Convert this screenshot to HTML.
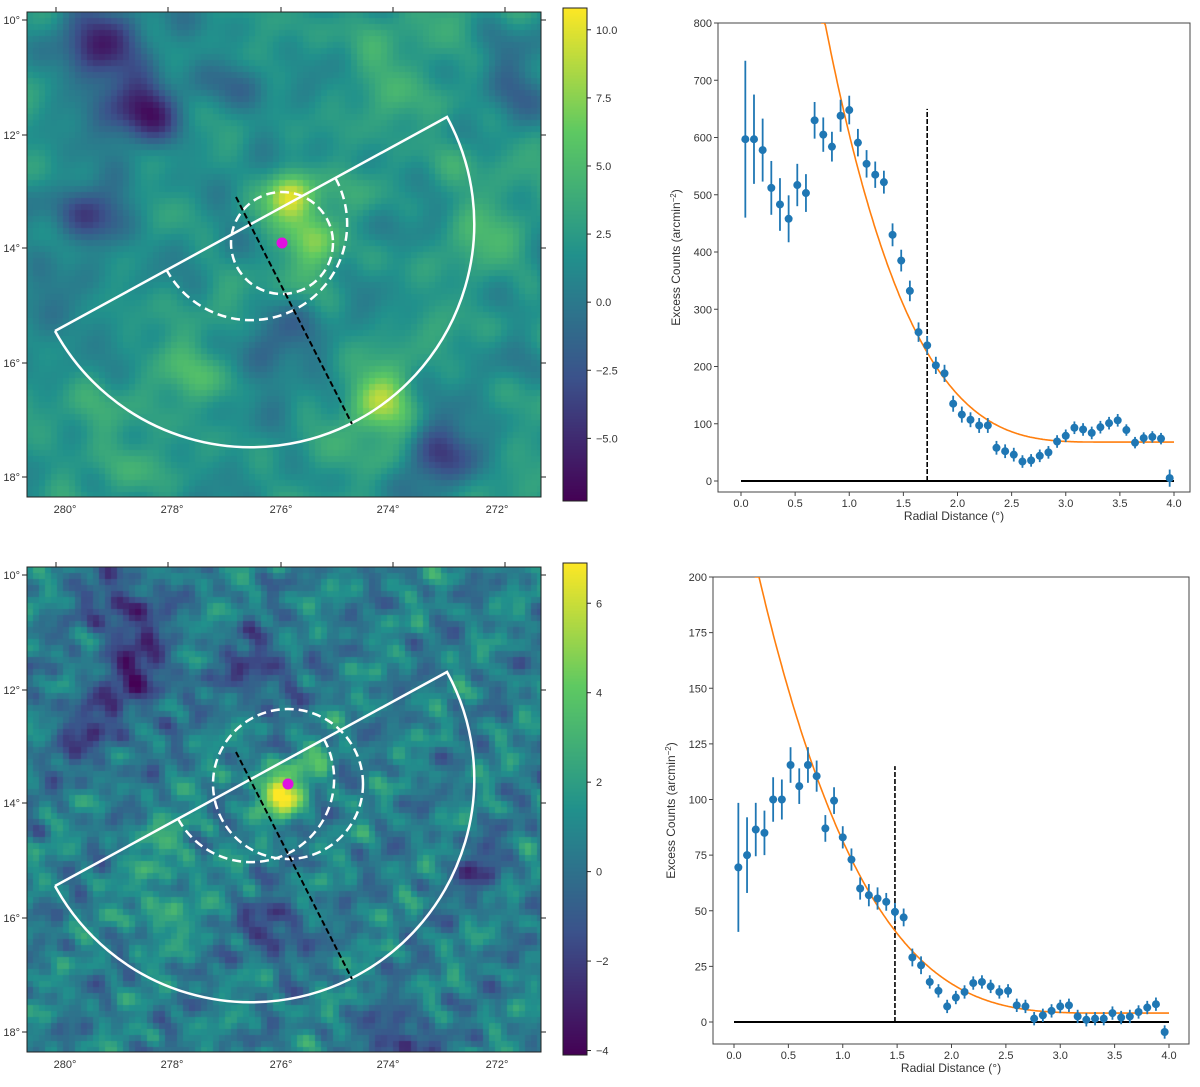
<!DOCTYPE html>
<html><head><meta charset="utf-8"><style>
html,body{margin:0;padding:0;background:#fff;width:1200px;height:1087px;overflow:hidden;font-family:"Liberation Sans",sans-serif}
#root{position:relative;width:1200px;height:1087px}
canvas{position:absolute}
svg{position:absolute;left:0;top:0}
</style></head><body><div id="root">
<canvas id="map1" width="514" height="485" style="left:27px;top:12px"></canvas>
<canvas id="map2" width="514" height="485" style="left:27px;top:567px"></canvas>
<canvas id="cb1" width="24" height="493" style="left:563px;top:8px"></canvas>
<canvas id="cb2" width="24" height="492" style="left:563px;top:563px"></canvas>
<svg id="svg" width="1200" height="1087"></svg>
</div>
<script>
// ---- data: top profile ----
const topX = [0.04,0.12,0.2,0.28,0.36,0.44,0.52,0.6,0.68,0.76,0.84,0.92,1.0,1.08,1.16,1.24,1.32,1.4,1.48,1.56,1.64,1.72,1.8,1.88,1.96,2.04,2.12,2.2,2.28,2.36,2.44,2.52,2.6,2.68,2.76,2.84,2.92,3.0,3.08,3.16,3.24,3.32,3.4,3.48,3.56,3.64,3.72,3.8,3.88,3.96];
const topY = [597,597,578,512,483,458,517,503,630,605,584,638,648,591,554,535,522,430,385,332,260,237,202,188,135,116,107,97,97,58,52,46,34,36,44,50,69,79,93,90,84,94,101,106,89,67,75,77,74,5];
const topErr = [137,78,55,47,46,41,37,33,32,30,26,28,25,24,24,23,20,20,19,18,17,16,15,15,14,14,13,13,13,12,12,12,11,11,11,11,11,11,11,11,11,11,11,11,10,10,10,10,10,15];
const topFit = [68,26,3.4,3.46]; // plateau, amplitude, cutoff, power
const topMark = [1.72,650];
const topYTicks = [0,100,200,300,400,500,600,700,800];
// ---- data: bottom profile ----
const botX = topX;
const botY = [69.5,75,86.5,85,100,100,115.5,106,115.5,110.5,87,99.5,83,73,60,57,55.5,54,49.5,47,29,25.5,18,14,7,11,13.5,17.5,18,16,13.5,14,7.5,7,1.5,3,5,7,7.5,2.5,1,1.5,1.5,4,2,2.5,4.5,6.5,8,-4.5];
const botErr = [29,17,12,10,10,9,8,8,8,7,6,6,5,5,5,5,5,4,4,4,4,4,3,3,3,3,3,3,3,3,3,3,3,3,3,3,3,3,3,3,3,3,3,3,3,3,3,3,3,3];
const botFit = [4,3.25,3.5,3.46];
const botMark = [1.48,115];
const botYTicks = [0,25,50,75,100,125,150,175,200];
const xTicks = [0,0.5,1,1.5,2,2.5,3,3.5,4];
// ---- map sources [x,y,sigma,amp] in map pixel coords ----
const map1Src = [[65,30,30,-7],[115,100,28,-7],[65,205,25,-6],[240,330,25,-4],[405,440,30,-5],[480,80,30,-3],[200,60,25,-3],[20,300,30,-3],[258,180,16,8.5],[285,225,20,5],[350,385,22,6],[365,440,18,4],[450,210,25,2],[150,340,30,2],[60,410,30,2],[350,40,30,2],[440,120,30,2]];
const map2Src = [[95,40,25,-3],[110,105,25,-3],[230,100,25,-2.5],[245,360,20,-3],[60,160,30,-2],[450,300,20,-2],[370,470,20,-3],[255,228,14,4.5],[240,215,18,2.5],[285,195,14,2],[140,280,25,1.5],[130,345,20,2]];

const NS="http://www.w3.org/2000/svg";
const svg=document.getElementById('svg');
function el(tag,attrs,parent){const e=document.createElementNS(NS,tag);for(const k in attrs)e.setAttribute(k,attrs[k]);(parent||svg).appendChild(e);return e;}
function txt(x,y,s,anchor,size,parent){const t=el('text',{x:x,y:y,'text-anchor':anchor||'middle','font-size':size||11,fill:'#333','font-family':'Liberation Sans, sans-serif'},parent);t.textContent=s;return t;}

const VIR=[[68,1,84],[59,82,139],[33,145,140],[94,201,98],[253,231,37]];
function vir(f){f=Math.max(0,Math.min(1,f));const p=f*4,i=Math.min(3,Math.floor(p)),t=p-i;return VIR[i].map((c,k)=>Math.round(c+(VIR[i+1][k]-c)*t));}

const TEX=[[1,0.7,0,0.5],[1.93,-1.31,1,0.4],[0.43,2.37,2,0.35],[3.17,2.71,0.3,0.25],[-2.53,1.61,4.1,0.3],[1.41,-2.89,2.7,0.25],[3.7,-0.9,5.2,0.2],[-0.77,3.53,1.7,0.2]];
function drawMap(id,src,base,tex,freq,vmin,vmax,block){
  const c=document.getElementById(id),ctx=c.getContext('2d');
  for(let y=0;y<485;y+=block)for(let x=0;x<514;x+=block){
    let v=base;
    for(const t of TEX)v+=tex*t[3]*Math.sin(freq*(x*t[0]+y*t[1])+t[2]);
    for(const s of src){const dx=x-s[0],dy=y-s[1];v+=s[3]*Math.exp(-(dx*dx+dy*dy)/(2*s[2]*s[2]));}
    const col=vir((v-vmin)/(vmax-vmin));ctx.fillStyle='rgb('+col+')';ctx.fillRect(x,y,block,block);
  }
}
drawMap('map1',map1Src,2,1.3,0.033,-7.3,10.8,6);
drawMap('map2',map2Src,0.6,1.3,0.065,-4.1,6.9,6);
function drawCb(id,h){const ctx=document.getElementById(id).getContext('2d');for(let y=0;y<h;y++){ctx.fillStyle='rgb('+vir(1-y/h)+')';ctx.fillRect(0,y,24,1);}}
drawCb('cb1',493);drawCb('cb2',492);

function mapDecor(oy,innerR,circ,prefix){
  const g=el('g',{});
  el('rect',{x:27,y:oy+12,width:514,height:485,fill:'none',stroke:'#222','stroke-width':1},g);
  const xt=[[56,65,'280°'],[168,172,'278°'],[281,281,'276°'],[393,388,'274°'],[505,497,'272°']];
  xt.forEach(t=>{el('line',{x1:t[0],x2:t[0],y1:oy+12,y2:oy+7,stroke:'#222'},g);txt(t[1],oy+513,t[2],'middle',11,g);});
  const yt=[[20,'10°'],[135,'12°'],[248,'14°'],[363,'16°'],[477,'18°']];
  yt.forEach(t=>{el('line',{x1:27,x2:22,y1:oy+t[0],y2:oy+t[0],stroke:'#222'},g);el('line',{x1:541,x2:546,y1:oy+t[0],y2:oy+t[0],stroke:'#222'},g);txt(20,oy+t[0]+4,t[1],'end',11,g);});
  const cy=oy+224,cx=251,R=223;
  const a1=[55,oy+331],a2=[447,oy+117];
  el('path',{d:`M${a1[0]},${a1[1]} L${a2[0]},${a2[1]} A${R},${R} 0 0 1 ${a1[0]},${a1[1]}`,fill:'none',stroke:'#fff','stroke-width':2.5,},g);
  const ux=(a2[0]-a1[0])/446,uy=(a2[1]-a1[1])/446;
  const p1=[cx-ux*innerR,cy-uy*innerR],p2=[cx+ux*innerR,cy+uy*innerR];
  el('path',{d:`M${p2[0]},${p2[1]} A${innerR},${innerR} 0 0 1 ${p1[0]},${p1[1]}`,fill:'none',stroke:'#fff','stroke-width':2.5,'stroke-dasharray':'9,5',},g);
  el('circle',{cx:circ[0],cy:oy+circ[1],r:circ[2],fill:'none',stroke:'#fff','stroke-width':2.5,'stroke-dasharray':'9,5',},g);
  el('line',{x1:236,y1:oy+197,x2:352,y2:oy+424,stroke:'#000','stroke-width':2,'stroke-dasharray':'6,3',},g);
  el('circle',{cx:circ[3],cy:oy+circ[4],r:5.5,fill:'#e010e0',},g);
}
mapDecor(0,96,[282,243,51,282,243],'top');
mapDecor(555,83,[288,229,75,288,229],'bottom');

function cbDecor(x,top,bot,vals,vtop,vbot,labels,prefix){
  const g=el('g',{});
  el('rect',{x:563,y:top,width:24,height:bot-top,fill:'none',stroke:'#222'},g);
  vals.forEach((v,i)=>{const y=top+(vtop-v)/(vtop-vbot)*(bot-top);el('line',{x1:587,x2:591,y1:y,y2:y,stroke:'#222'},g);txt(596,y+4,labels[i],'start',11,g);});
}
cbDecor(563,8,501,[10,7.5,5,2.5,0,-2.5,-5],10.8,-7.3,['10.0','7.5','5.0','2.5','0.0','−2.5','−5.0'],'top');
cbDecor(563,563,1055,[6,4,2,0,-2,-4],6.9,-4.1,['6','4','2','0','−2','−4'],'bottom');

function profile(o){
  const g=el('g',{});
  const X=v=>o.x0+(v)*(o.x4-o.x0)/4, Y=v=>o.y0+(v-0)*(o.yT-o.y0)/o.ymax;
  el('rect',{x:o.L,y:o.T,width:o.R-o.L,height:o.B-o.T,fill:'none',stroke:'#444'},g);
  xTicks.forEach(t=>{const x=X(t);el('line',{x1:x,x2:x,y1:o.B,y2:o.B+4,stroke:'#444'},g);txt(x,o.B+15,t.toFixed(1),'middle',11,g);});
  o.yt.forEach(t=>{const y=Y(t);el('line',{x1:o.L,x2:o.L-4,y1:y,y2:y,stroke:'#444'},g);txt(o.L-6,y+4,String(t),'end',11,g);});
  txt((o.L+o.R)/2,o.B+28,'Radial Distance (°)','middle',12,g);
  const yl=txt(0,0,'','middle',12,g);yl.setAttribute('transform',`translate(${o.L-38},${(o.T+o.B)/2}) rotate(-90)`);
  yl.innerHTML='Excess Counts (arcmin<tspan baseline-shift="super" font-size="8">−2</tspan>)';
  el('line',{x1:X(0),x2:X(4),y1:Y(0),y2:Y(0),stroke:'#000','stroke-width':2,},g);
  el('line',{x1:X(o.mark[0]),x2:X(o.mark[0]),y1:Y(0),y2:Y(o.mark[1]),stroke:'#000','stroke-width':1.6,'stroke-dasharray':'5,2',},g);
  let d='';const f=o.fit;
  for(let v=0;v<=4.0001;v+=0.01){const m=f[0]+f[1]*Math.pow(Math.max(0,f[2]-v),f[3]);if(m>o.ymax*1.05)continue;d+=(d?'L':'M')+X(v).toFixed(1)+','+Math.max(o.T,Y(m)).toFixed(1);}
  const cp=el('clipPath',{id:o.name+'-clip'},g);el('rect',{x:o.L,y:o.T,width:o.R-o.L,height:o.B-o.T},cp);
  el('path',{d:d,fill:'none',stroke:'#ff7f0e','stroke-width':1.6,'clip-path':`url(#${o.name}-clip)`,},g);
  o.xs.forEach((xv,i)=>{
    const x=X(xv),y=Y(o.ys[i]);
    const eb=el('line',{x1:x,x2:x,y1:Y(o.ys[i]+o.err[i]),y2:Y(o.ys[i]-o.err[i]),stroke:'#1f77b4','stroke-width':1.8},g);
    
    
    const c=el('circle',{cx:x,cy:y,r:4,fill:'#1f77b4'},g);
    
    
  });
}
profile({name:'top-profile-chart',L:718,R:1190,T:23,B:492,x0:741,x4:1174,y0:481,yT:23,ymax:800,yt:topYTicks,xs:topX,ys:topY,err:topErr,fit:topFit,mark:topMark});
profile({name:'bottom-profile-chart',L:713,R:1189,T:577,B:1044,x0:734,x4:1169,y0:1022,yT:577,ymax:200,yt:botYTicks,xs:botX,ys:botY,err:botErr,fit:botFit,mark:botMark});
</script></body></html>
